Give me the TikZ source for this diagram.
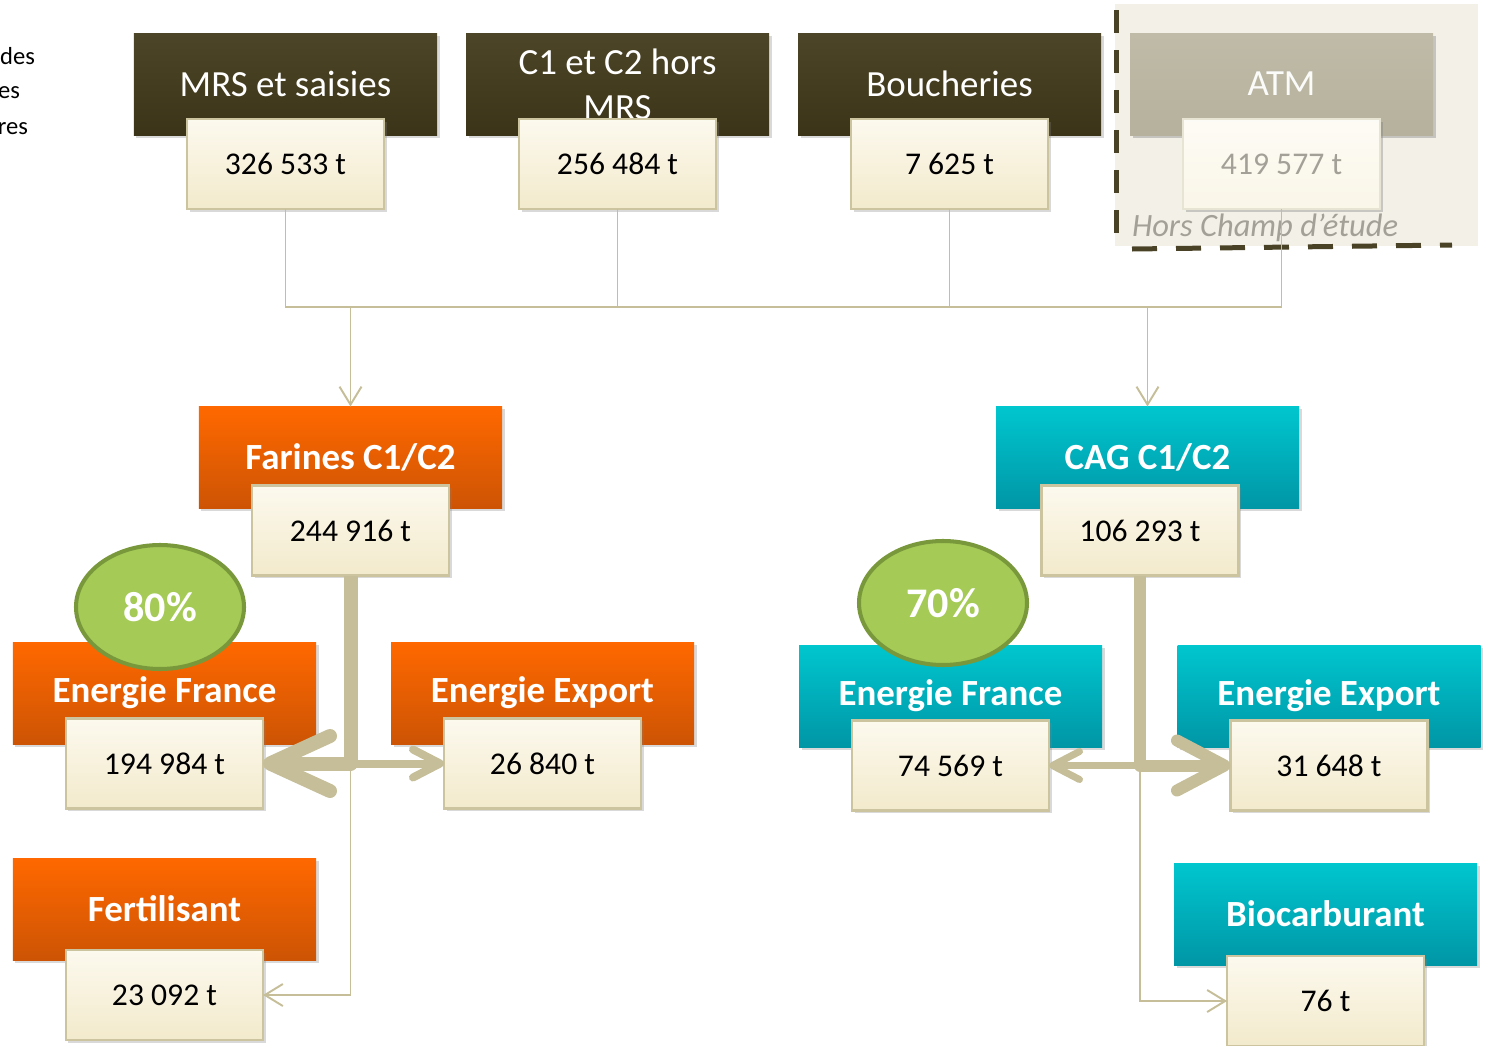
\documentclass[tikz,border=0pt]{standalone}
\usepackage{fontspec}
\setmainfont{Carlito}
\usetikzlibrary{arrows.meta,calc,positioning,shadows,shapes.geometric}
\definecolor{olivetop}{RGB}{77,69,39}
\definecolor{olivebot}{RGB}{59,52,24}
\definecolor{creamtop}{RGB}{252,249,238}
\definecolor{creambot}{RGB}{243,234,204}
\definecolor{creamline}{RGB}{204,196,158}
\definecolor{orangetop}{RGB}{255,104,0}
\definecolor{orangebot}{RGB}{205,84,4}
\definecolor{cyantop}{RGB}{0,198,206}
\definecolor{cyanbot}{RGB}{0,150,166}
\definecolor{linkcol}{RGB}{197,190,152}
\definecolor{pctfill}{RGB}{165,202,86}
\definecolor{pctline}{RGB}{121,152,60}
\definecolor{atmtop}{RGB}{191,187,168}
\definecolor{atmbot}{RGB}{181,177,156}
\definecolor{hcbg}{RGB}{243,240,232}
\definecolor{hcline}{RGB}{74,66,38}
\definecolor{hctext}{RGB}{163,160,152}

\begin{document}
\begin{tikzpicture}[x=0.2mm,y=-0.2mm,>=Latex,
  every node/.style={inner sep=0pt,outer sep=0pt},
  hdr/.style={minimum width=60.6mm,minimum height=20.4mm,text=white,
    font=\fontsize{21}{25.6}\selectfont,
    drop shadow={opacity=.3,shadow xshift=.5mm,shadow yshift=-.5mm}},
  srcbox/.style={hdr,top color=olivetop,bottom color=olivebot},
  atmbox/.style={hdr,top color=atmtop,bottom color=atmbot,text=white!94!atmtop,
    drop shadow={opacity=.12,shadow xshift=.5mm,shadow yshift=-.5mm}},
  farbox/.style={hdr,top color=orangetop,bottom color=orangebot,
    font=\bfseries\fontsize{21}{25.6}\selectfont},
  cagbox/.style={hdr,top color=cyantop,bottom color=cyanbot,
    font=\bfseries\fontsize{21}{25.6}\selectfont},
  val/.style={draw=creamline,line width=1.2pt,top color=creamtop,bottom color=creambot,
    minimum width=39.4mm,minimum height=18mm,font=\fontsize{18}{22}\selectfont,
    drop shadow={opacity=.3,shadow xshift=.5mm,shadow yshift=-.5mm}},
  atmval/.style={val,draw=creamline!45,top color=creamtop!60,bottom color=creambot!45,
    text=hctext,drop shadow={opacity=.1,shadow xshift=.5mm,shadow yshift=-.5mm}},
  pct/.style={ellipse,draw=pctline,line width=2.3pt,fill=pctfill,
    minimum width=33.6mm,minimum height=24.8mm,text=white,
    font=\bfseries\fontsize{24}{29}\selectfont},
  flow/.style={draw=linkcol,line width=1.1pt},
  tip/.style={-{Straight Barb[length=3.6mm,width=4.4mm]}},
  bigflow/.style={draw=linkcol,line width=2.8mm,line join=round,
    -{Straight Barb[length=12mm,width=11mm,round]}},
  midflow/.style={draw=linkcol,line width=1.6mm,
    -{Straight Barb[length=5.4mm,width=5.6mm,round]}},
  cutoff/.style={anchor=east,font=\fontsize{14}{20}\selectfont}]
\useasboundingbox (0,0) rectangle (1485,1046);

% cut text on the left edge
\node[cutoff] (cut1) at (35,56) {des};
\node[cutoff] (cut2) at (20,93) {es};
\node[cutoff] (cut3) at (28,129) {res};

% out of scope area
\fill[hcbg] (1115,4) rectangle (1478,246);
\draw[hcline,line width=1mm,dash pattern=on 4.6mm off 3.4mm] (1116,10) -- (1116,242);
\draw[hcline,line width=1mm,dash pattern=on 5mm off 3.8mm] (1132,249) -- (1452,245);
\node[anchor=west,text=hctext,font=\itshape\fontsize{18.5}{22}\selectfont] (hc) at (1132,228) {Hors Champ d’étude};

% sources
\node[srcbox] (mrs) at (285.5,84) {MRS et saisies};
\node[val,below=-3.2mm of mrs] (vmrs) {326 533 t};
\node[srcbox,right=5.8mm of mrs,align=center] (c12) {C1 et C2 hors\\MRS};
\node[val,below=-3.2mm of c12] (vc12) {256 484 t};
\node[srcbox,right=5.8mm of c12] (bouch) {Boucheries};
\node[val,below=-3.2mm of bouch] (vbouch) {7 625 t};
\node[atmbox,right=5.8mm of bouch] (atm) {ATM};
\node[atmval,below=-3.2mm of atm] (vatm) {419 577 t};

% intermediate products
\node[farbox] (far) at (350.5,457.5) {Farines C1/C2};
\node[val,below=-4.6mm of far] (vfar) {244 916 t};
\node[cagbox] (cag) at (1147.5,457.5) {CAG C1/C2};
\node[val,below=-4.6mm of cag,xshift=-1.5mm] (vcag) {106 293 t};

% uses, farines
\node[farbox] (efl) at (164.5,693) {Energie France};
\node[val,below=-5.1mm of efl] (vefl) {194 984 t};
\node[farbox] (eel) at (542.5,693) {Energie Export};
\node[val,below=-5.1mm of eel] (veel) {26 840 t};
\node[farbox] (fert) at (164.5,909) {Fertilisant};
\node[val,below=-2mm of fert] (vfert) {23 092 t};
\node[pct] (pl) at (160,607) {80\%};

% uses, CAG
\node[cagbox] (efr) at (950.5,696) {Energie France};
\node[val,below=-5.3mm of efr] (vefr) {74 569 t};
\node[cagbox] (eer) at (1329,696) {Energie Export};
\node[val,below=-5.3mm of eer] (veer) {31 648 t};
\node[cagbox] (bio) at (1325.5,914) {Biocarburant};
\node[val,below=-1.8mm of bio] (vbio) {76 t};
\node[pct] (pr) at (943,603) {70\%};

% collecting line
\coordinate (bus) at (0,307);
\draw[flow] (vmrs.south) |- (vatm.south |- bus) -- (vatm.south);
\draw[flow] (vc12.south) -- (vc12.south |- bus);
\draw[flow] (vbouch.south) -- (vbouch.south |- bus);
\draw[flow,tip] (far.north |- bus) -- (far.north);
\draw[flow,tip] (cag.north |- bus) -- (cag.north);

% farines split
\coordinate (jl) at (vfar.south |- vefl.east);
\draw[flow,tip] (jl) |- (vfert.east);
\draw[midflow] (jl) -- (veel.west);
\draw[bigflow] (vfar.south) |- (vefl.east);

% CAG split
\coordinate (jr) at (vcag.south |- veer.west);
\draw[flow,tip] (jr) |- (vbio.west);
\draw[midflow,line width=1.4mm] (jr) -- (vefr.east);
\draw[bigflow,line width=2.4mm,-{Straight Barb[length=9.5mm,width=10mm,round]}] (vcag.south) |- (veer.west);
\end{tikzpicture}
\end{document}
